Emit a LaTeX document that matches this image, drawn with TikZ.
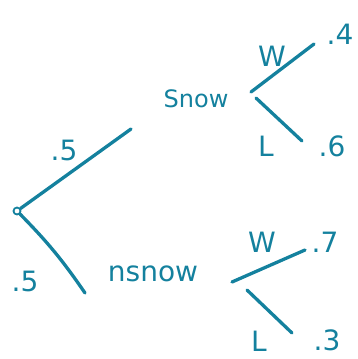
\documentclass[tikz,border=0pt]{standalone}
\usepackage{fontspec}
\setmainfont{DejaVu Sans}
\definecolor{ink}{HTML}{14819E}
\begin{document}
\begin{tikzpicture}[x=1pt,y=-1pt,
  branch/.style={draw=ink,line width=3.3pt,line cap=round},
  lbl/.style={text=ink,font=\fontsize{24}{26}\selectfont,inner sep=0pt},
  big/.style={text=ink,font=\fontsize{28}{30}\selectfont,inner sep=0pt},
  prob/.style={text=ink,font=\fontsize{28}{30}\selectfont,inner sep=0pt}]
\useasboundingbox (0,0) rectangle (358,359);
\node[circle,draw=ink,line width=1.8pt,minimum size=7pt,inner sep=0pt] (root) at (17,211) {};
\coordinate (snowEnd) at (131,129);
\coordinate (nsEnd) at (85,293);
\draw[branch] (root) -- (snowEnd);
\draw[branch] (root) to[bend left=5] (nsEnd);
\node[prob] (pA) at (64,150) {.5};
\node[prob] (pB) at (25,281) {.5};
\node[lbl] (snow) at (196,99) {Snow};
\node[big] (nsnow) at (153,274) {nsnow};
% upper subtree
\coordinate (uWs) at (251,92); \coordinate (uWe) at (314,44);
\coordinate (uLs) at (256,98); \coordinate (uLe) at (302,141);
\draw[branch] (uWs) -- (uWe);
\draw[branch] (uLs) -- (uLe);
\node[big] (uW) at (272,56) {W};
\node[big] (uL) at (266,146) {L};
\node[prob] (p4) at (340,34) {.4};
\node[prob] (p6) at (332,146) {.6};
% lower subtree
\coordinate (lWs) at (232,282); \coordinate (lWe) at (305,250);
\coordinate (lLs) at (247,290); \coordinate (lLe) at (292,333);
\draw[branch] (lWs) -- (lWe);
\draw[branch] (lLs) -- (lLe);
\node[big] (lW) at (262,242) {W};
\node[big] (lL) at (259,341) {L};
\node[prob] (p7) at (325,242) {.7};
\node[prob] (p3) at (327,340) {.3};
\end{tikzpicture}
\end{document}
